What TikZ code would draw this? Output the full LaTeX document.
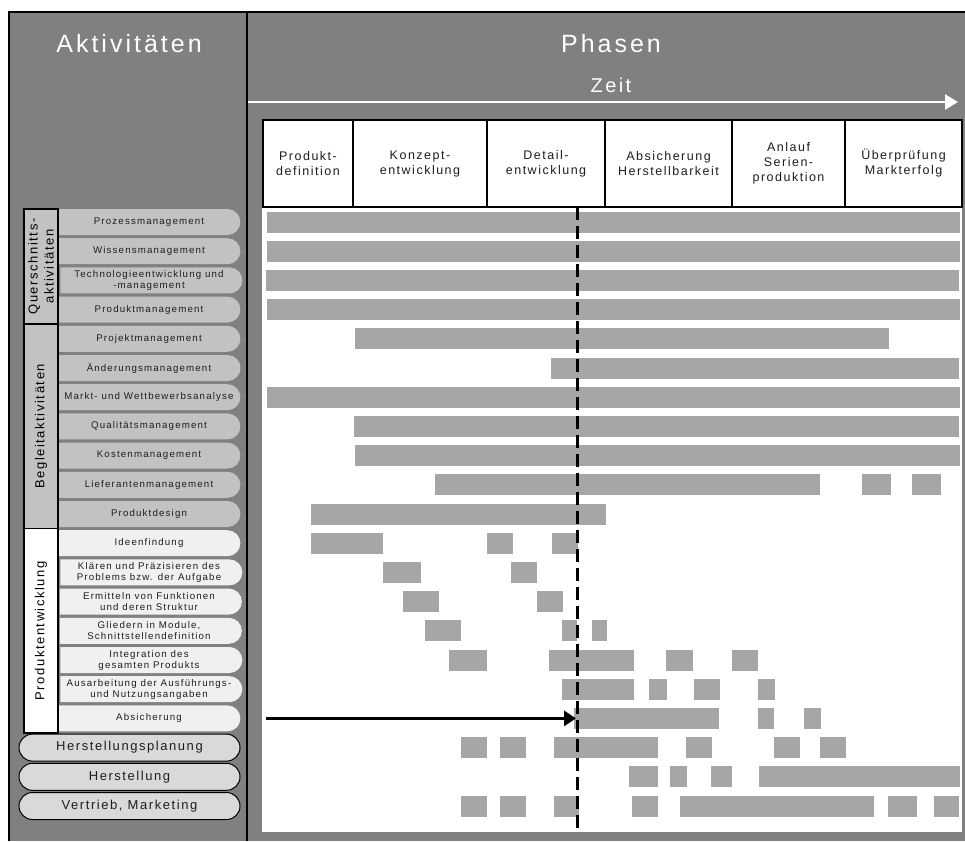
\documentclass[tikz,border=0pt]{standalone}
\usepackage{fontspec}
\setmainfont{Liberation Sans}[LetterSpace=12]
\usetikzlibrary{shapes.misc,arrows.meta}
\definecolor{panelgray}{HTML}{808080}
\definecolor{bargray}{HTML}{A6A6A6}
\definecolor{pillgray}{HTML}{C2C2C2}
\definecolor{pilllight}{HTML}{F0F0F0}
\definecolor{pillbottom}{HTML}{D9D9D9}
\definecolor{labeltext}{HTML}{1E1E1E}
\begin{document}
\begin{tikzpicture}[x=1pt,y=-1pt,
  pillbase/.style={rounded rectangle, minimum width=182, minimum height=26, inner sep=0pt,
    align=center, text=labeltext, font=\fontsize{9.7}{11}\selectfont},
  pilltop/.style={pillbase, rounded rectangle west arc=none, fill=pillgray},
  pilllow/.style={pillbase, rounded rectangle west arc=none, fill=pilllight},
  pillbot/.style={rounded rectangle, draw=black, line width=1, fill=pillbottom, minimum width=221,
    minimum height=27, inner sep=0pt, text=labeltext, font=\fontsize{13}{15}\selectfont},
  gbox/.style={draw=black, line width=1.2, rotate=90, minimum height=34, inner sep=0pt,
    align=center, text=black, font=\fontsize{13}{16}\selectfont},
  phasebox/.style={draw=black, line width=1.3, fill=white, minimum height=87, inner sep=0pt,
    align=center, text=labeltext, font=\fontsize{12.5}{15}\selectfont},
  headtext/.style={text=white, inner sep=0pt, anchor=base},
  bar/.style={fill=bargray}
]
\useasboundingbox (0,0) rectangle (965,841);
\fill[white] (0,0) rectangle (965,841);
\fill[panelgray] (9,12) rectangle (965,841);
\draw[line width=1.2] (9,841) -- (9,12) -- (965,12);
\draw[line width=1.2] (247,12) -- (247,841);

% headings
\node[headtext, font=\fontsize{25}{30}\selectfont] (akt) at (129,52) {Aktivitäten};
\node[headtext, font=\fontsize{25}{30}\selectfont] (pha) at (611,52) {Phasen};
\node[headtext, font=\fontsize{20}{24}\selectfont] (zeit) at (611,92) {Zeit};
\coordinate (zs) at (248,102);
\coordinate (ze) at (958,102);
\draw[white, line width=2.5, -{Triangle[length=13pt,width=15pt]}] (zs) -- (ze);

% chart area
\fill[white] (262,207) rectangle (962,832);

% phase boxes
\node[phasebox, minimum width=90]  (p1) at (308,163.5) {Produkt-\\definition};
\node[phasebox, minimum width=134] (p2) at (420,163.5) {Konzept-\\entwicklung};
\node[phasebox, minimum width=118] (p3) at (546,163.5) {Detail-\\entwicklung};
\node[phasebox, minimum width=127] (p4) at (668.5,163.5) {Absicherung\\Herstellbarkeit};
\node[phasebox, minimum width=113] (p5) at (788.5,163.5) {Anlauf\\Serien-\\produktion};
\node[phasebox, minimum width=117] (p6) at (903.5,163.5) {Überprüfung\\Markterfolg};

% bars
\foreach \r/\a/\b in {
  1/267/960, 2/267/960, 3/266/959, 4/267/960, 5/355/889, 6/551/959, 7/267/960,
  8/354/959, 9/355/960, 10/435/820, 10/862/891, 10/912/941, 11/311/606,
  12/311/383, 12/487/513, 12/552/578, 13/383/421, 13/511/537,
  14/403/439, 14/537/563, 15/425/461, 15/562/577, 15/592/607,
  16/449/487, 16/549/634, 16/666/693, 16/732/758,
  17/562/634, 17/649/667, 17/694/720, 17/758/775,
  18/574/719, 18/758/774, 18/804/821,
  19/461/487, 19/500/526, 19/554/658, 19/686/712, 19/774/800, 19/820/846,
  20/629/658, 20/670/687, 20/711/732, 20/759/960,
  21/461/487, 21/500/526, 21/554/579, 21/632/658, 21/680/874, 21/888/917, 21/934/959}
  \fill[bar] (\a,{222+29.2*(\r-1)-10.5}) rectangle (\b,{222+29.2*(\r-1)+10.5});

% milestone dashed line and arrow
\coordinate (dtop) at (577,207);
\coordinate (dbot) at (577,832);
\draw[line width=3, dash pattern=on 13pt off 6pt] (dtop) -- (dbot);
\coordinate (as) at (266,718.4);
\coordinate (ae) at (576,718.4);
\draw[line width=3, -{Triangle[length=12pt,width=15pt]}] (as) -- (ae);

% row labels
\node[pilltop] (r1)  at (149,222.0) {Prozessmanagement};
\node[pilltop] (r2)  at (149,251.2) {Wissensmanagement};
\node[pilltop] (r3)  at (149,280.4) {Technologieentwicklung und\\-management};
\node[pilltop] (r4)  at (149,309.6) {Produktmanagement};
\node[pilltop] (r5)  at (149,338.8) {Projektmanagement};
\node[pilltop] (r6)  at (149,368.0) {Änderungsmanagement};
\node[pilltop] (r7)  at (149,397.2) {Markt- und Wettbewerbsanalyse};
\node[pilltop] (r8)  at (149,426.4) {Qualitätsmanagement};
\node[pilltop] (r9)  at (149,455.6) {Kostenmanagement};
\node[pilltop] (r10) at (149,484.8) {Lieferantenmanagement};
\node[pilltop] (r11) at (149,514.0) {Produktdesign};
\node[pilllow] (r12) at (149,543.2) {Ideenfindung};
\node[pilllow] (r13) at (149,572.4) {Klären und Präzisieren des\\Problems bzw. der Aufgabe};
\node[pilllow] (r14) at (149,601.6) {Ermitteln von Funktionen\\und deren Struktur};
\node[pilllow] (r15) at (149,630.8) {Gliedern in Module,\\Schnittstellendefinition};
\node[pilllow] (r16) at (149,660.0) {Integration des\\gesamten Produkts};
\node[pilllow] (r17) at (149,689.2) {Ausarbeitung der Ausführungs-\\und Nutzungsangaben};
\node[pilllow] (r18) at (149,718.4) {Absicherung};
\node[pillbot] (r19) at (129.5,747.6) {Herstellungsplanung};
\node[pillbot] (r20) at (129.5,776.8) {Herstellung};
\node[pillbot] (r21) at (129.5,806.0) {Vertrieb, Marketing};

% group boxes
\node[gbox, fill=pillgray, minimum width=115] (gq) at (41,266.5) {Querschnitts-\\aktivitäten};
\node[gbox, fill=pillgray, minimum width=204.6] (gb) at (41,426.3) {Begleitaktivitäten};
\node[gbox, fill=white, minimum width=204.4] (gp) at (41,630.8) {Produktentwicklung};
\end{tikzpicture}
\end{document}
